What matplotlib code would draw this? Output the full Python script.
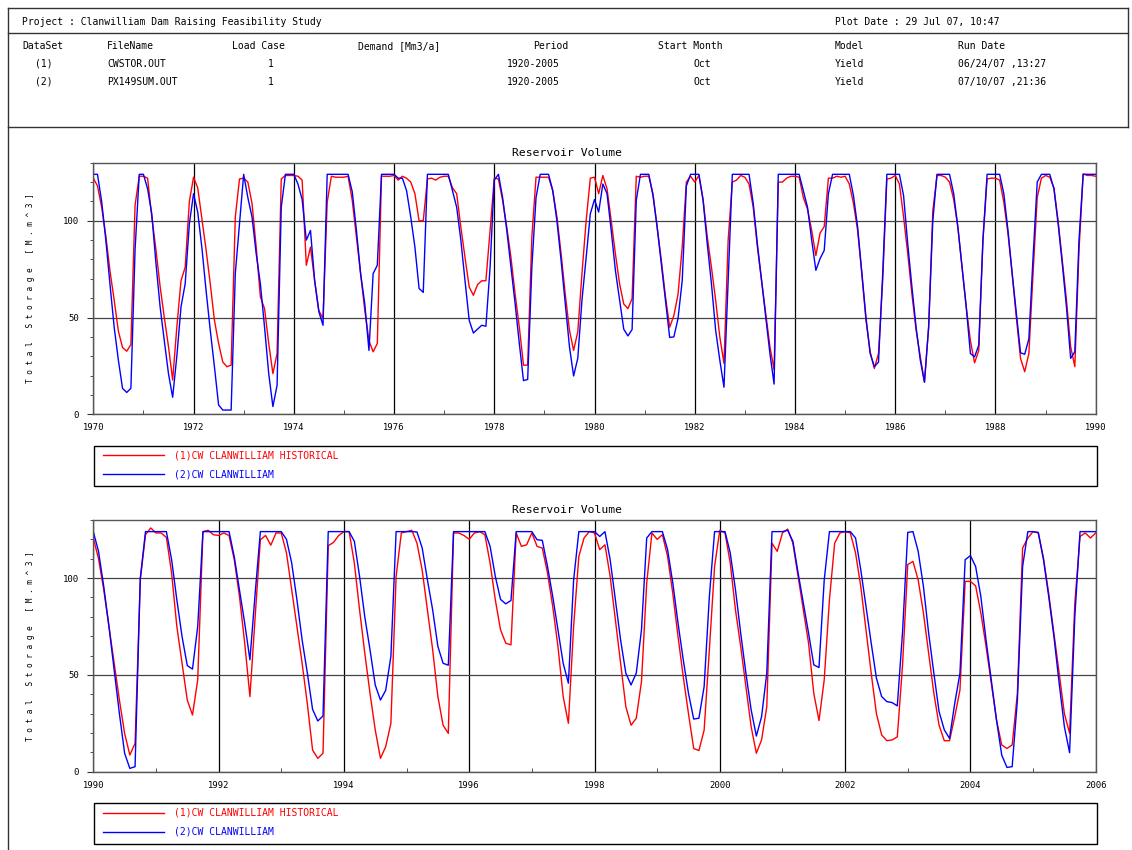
import numpy as np
import matplotlib.pyplot as plt
from matplotlib.lines import Line2D
from matplotlib.patches import Rectangle
from matplotlib.ticker import MultipleLocator

plt.rcParams['font.family'] = ['DejaVu Sans Mono']

# Monthly reservoir storage [M.m^3], one row per year (12 months), last value closes the range
hist_1970 = [
    122, 118, 107, 92, 74, 59, 43, 34.5, 32.6, 36, 108, 123,
    123, 122, 102, 85, 66, 50, 35, 17.7, 45, 69, 76, 110,
    122.5, 117, 101, 85, 67.5, 48.6, 36.6, 27, 24.6, 25.4, 102, 121.6,
    122, 120, 109, 86.4, 60.7, 54.6, 36.6, 21, 31.4, 121.6, 123.4, 123.4,
    123.4, 123, 121, 77, 86.4, 69, 53.6, 49.5, 109.6, 123, 122.5, 122.5,
    122.5, 123, 110.5, 91.6, 72.7, 53.8, 38, 32.3, 36.6, 123, 123, 123,
    123.4, 121, 123, 122, 120, 114, 100, 100, 121.6, 122, 121, 122.5,
    123, 123, 117, 114, 96.7, 81, 65.8, 61.5, 67, 69, 69, 95,
    122, 121.6, 110.5, 96.7, 81, 62, 45, 25.4, 25.4, 91.6, 122.5, 122.5,
    122.5, 122.5, 115.6, 102, 83, 62, 43.5, 33, 42.6, 72.7, 100, 122,
    122.5, 114, 123.4, 116.5, 100, 83, 67.5, 57, 54.6, 59.8, 123, 122.5,
    123, 123, 114, 96.7, 79.5, 60.7, 45, 51, 62, 86.4, 120, 123,
    120, 123.4, 111, 91.6, 76, 59, 40, 26.3, 90, 120, 121, 123.4,
    122.5, 119, 107, 86.4, 69, 52, 35, 23, 120, 120, 122, 123,
    123, 122.5, 112, 106, 95, 82, 93.6, 97, 122, 122, 123, 122.5,
    123, 119, 109, 95, 72.7, 48.6, 32.3, 23.7, 31.4, 69, 121.6, 122,
    123.4, 119, 102, 83, 62, 43.5, 29.7, 16.8, 45, 105, 123.4, 123.4,
    122.5, 120, 111, 96.7, 76, 55.5, 38, 26.6, 33, 90, 121.6, 122,
    122, 121, 109.6, 93.3, 72.7, 50, 28.9, 22, 31.4, 72.7, 112, 122,
    123.4, 122.5, 117, 100, 79.5, 59, 35, 24.6, 84.7, 124.2, 123.4, 123.4,
    123,
]
model_1970 = [
    124, 124, 110, 90, 67, 45, 28, 13.4, 11.3, 13.4, 85, 124,
    124, 116.5, 103.6, 78, 55.5, 38, 21, 8.8, 30, 55.5, 67.5, 98.5,
    114, 104.5, 86, 64, 43.5, 24.6, 4.8, 2.2, 2.2, 2.2, 72.7, 98.5,
    124, 112, 102, 83, 67.5, 45, 21, 4, 15, 107, 124, 124,
    124, 119, 111, 90, 95, 69, 53, 46, 124, 124, 124, 124,
    124, 124, 115, 95, 72.7, 57, 33, 72.7, 77, 124, 124, 124,
    124, 122, 122, 115.6, 102, 86.4, 65, 63, 124, 124, 124, 124,
    124, 124, 115.6, 107, 90, 69, 48.6, 42, 44, 46, 45.5, 76,
    121, 124, 112, 95, 76, 57, 36.6, 17.4, 18, 76, 112, 124,
    124, 124, 115.6, 100, 79.5, 57, 35, 19.8, 29, 59, 81, 103.6,
    111, 104.5, 119, 114, 95, 74.4, 59, 44, 40.5, 43.8, 110.5, 124,
    124, 124, 113, 96.7, 77.8, 59, 39.7, 40, 49.5, 69, 118, 124,
    124, 124, 110.5, 88, 67.5, 43.5, 28, 14, 69, 124, 124, 124,
    124, 124, 109, 88, 69, 50, 31.4, 15.6, 124, 124, 124, 124,
    124, 124, 115.6, 107, 90, 74.4, 80.4, 84.7, 114, 124, 124, 124,
    124, 124, 113, 96.7, 73.5, 50, 31.4, 24.6, 27, 72.7, 124, 124,
    124, 124, 113, 88, 65.8, 45, 28, 16.5, 45, 100, 124, 124,
    124, 124, 114, 96.7, 76, 55.5, 31.4, 29.7, 35.7, 90, 124, 124,
    124, 124, 114, 95, 72.7, 52, 31.8, 31, 39, 81, 120, 124,
    124, 124, 116.5, 98.5, 77.8, 55.5, 28.9, 32.3, 90, 124, 124, 124,
    124,
]
hist_1990 = [
    120.7, 110, 94, 75, 56, 37, 19.8, 8.6, 14.7, 99, 122.4, 125.9,
    123.3, 123.3, 121, 102.6, 75, 56, 37, 29.3, 47.4, 124, 124.7, 122.4,
    122, 123.3, 122, 109.5, 90.5, 66.4, 38.8, 80, 119.8, 122, 117, 123.3,
    123.3, 113, 94, 75, 56, 35, 11.2, 6.9, 9.5, 116.7, 118.4, 122,
    124, 124, 107.8, 83.6, 61.2, 40.5, 21.6, 6.9, 12.9, 25, 100.9, 123.3,
    124, 124.7, 118, 104, 83.6, 63, 38.8, 24, 19.8, 123.3, 123.3, 122,
    120, 123.3, 124, 122.4, 107.8, 88.8, 73.3, 66.4, 65.5, 123.3, 116.4, 117.2,
    123.3, 116.4, 115.5, 102.6, 85.3, 64.7, 38.8, 25, 75, 111.2, 120.7, 124,
    123.3, 114.7, 117.2, 100.9, 78.4, 56, 33.6, 24, 27.6, 46.6, 97.4, 123.3,
    120, 122.4, 111.2, 92, 69.8, 49, 30, 12, 10.9, 21.5, 63, 106,
    124.7, 123.3, 107.8, 83.6, 64.7, 44, 23.3, 9.5, 16.4, 33.6, 118, 113.8,
    123.3, 125.3, 118, 100.9, 83.6, 66.4, 40.5, 26.4, 47.4, 88.8, 118, 123.3,
    124, 123.3, 113, 95.7, 73.3, 50.9, 30, 19, 16, 16.4, 18, 55,
    107, 108.6, 99, 82, 61.2, 40.5, 24, 16, 16, 28.4, 42.2, 98.3,
    98.3, 96, 82, 64.7, 45.7, 26.7, 13.8, 12, 13.8, 40.5, 115.5, 120.7,
    124, 123.3, 110.3, 92, 71.6, 50.9, 30, 19.8, 87, 121.5, 123.3, 120.7,
    123.3,
]
model_1990 = [
    124, 113.8, 95.7, 75, 52.6, 30, 9.5, 1.7, 2.6, 100, 124, 124,
    124, 124, 124, 109.5, 88.8, 69.8, 54.8, 53, 75, 124, 124, 124,
    124, 124, 124, 111, 94, 76.7, 57.8, 92, 124, 124, 124, 124,
    124, 120, 107.8, 88.8, 68, 50.9, 32.2, 26.2, 28.8, 124, 124, 124,
    124, 124, 119, 100.9, 80, 63, 44.8, 37, 42, 59.5, 124, 124,
    124, 124, 123.8, 115.5, 99, 83.6, 64.7, 56, 55, 124, 124, 124,
    124, 124, 124, 124, 116.4, 100.9, 89, 86.7, 88.4, 124, 124, 124,
    124, 119.8, 119.5, 106, 90.5, 73.3, 56, 45.7, 99, 124, 124, 124,
    124, 121.5, 124, 109.5, 88.8, 68, 50.9, 44.8, 50.9, 73.3, 120.7, 124,
    124, 124, 114.7, 97.4, 76.7, 57.8, 40.5, 27.2, 27.6, 44, 90.5, 124,
    124, 124, 113, 94, 71.6, 50.9, 32, 18.4, 28.4, 50.9, 124, 124,
    124, 124.7, 119, 102.6, 87, 71.6, 55.2, 53.8, 99, 124, 124, 124,
    124, 124, 120.7, 104.3, 85.3, 66.4, 48.3, 38.8, 36.2, 35.7, 34, 72,
    123.6, 124, 113.8, 95.7, 71.6, 50.9, 31, 21.6, 17.2, 35.3, 50.9, 109.5,
    111.6, 106, 90.5, 68, 47.4, 26.7, 8.6, 2.2, 2.6, 37, 106, 124,
    124, 123.6, 109.5, 90.5, 69.8, 45.7, 23.3, 9.8, 80, 124, 124, 124,
    124,
]

hist_label = "(1)CW CLANWILLIAM HISTORICAL"
model_label = "(2)CW CLANWILLIAM"
RED = "#ff0000"
BLUE = "#0000ff"

W, H = 1132, 850
fig = plt.figure(figsize=(W / 100, H / 100), dpi=100)


def fx(px):
    return px / W


def fy(py):
    return 1 - py / H


# page frame
def frame_line(x0, y0, x1, y1, color="#333333", lw=1.0):
    fig.add_artist(Line2D([fx(x0), fx(x1)], [fy(y0), fy(y1)], color=color, lw=lw))


frame_line(8, 8, 1128, 8)
frame_line(8, 33, 1128, 33)
frame_line(8, 127, 1128, 127)
frame_line(1128, 8, 1128, 127)
frame_line(8, 8, 8, 850)

# header block
hdr = dict(fontsize=7, va="center", ha="left")
fig.text(fx(22), fy(22), "Project : Clanwilliam Dam Raising Feasibility Study", **hdr)
fig.text(fx(835), fy(22), "Plot Date : 29 Jul 07, 10:47", **hdr)

columns = [22, 107, 232, 358, 533, 658, 835, 958]
heads = ["DataSet", "FileName", "Load Case", "Demand [Mm3/a]", "Period",
         "Start Month", "Model", "Run Date"]
for x, s in zip(columns, heads):
    fig.text(fx(x), fy(46), s, **hdr)

rows = [
    ["(1)", "CWSTOR.OUT", "1", "1920-2005", "Oct", "Yield", "06/24/07 ,13:27"],
    ["(2)", "PX149SUM.OUT", "1", "1920-2005", "Oct", "Yield", "07/10/07 ,21:36"],
]
row_x = [35, 107, 268, 507, 694, 835, 958]
for yy, r in zip([64, 82], rows):
    for x, s in zip(row_x, r):
        fig.text(fx(x), fy(yy), s, **hdr)


def panel(top, bottom, start, end, hist, model, legend_top):
    left, right = 93.3, 1095.7
    ax = fig.add_axes([fx(left), fy(bottom), (right - left) / W, (bottom - top) / H])
    t = start + np.arange(len(hist)) / 12
    ax.plot(t, hist, color=RED, lw=1.0)
    ax.plot(t, model, color=BLUE, lw=1.0)
    ax.set_xlim(start, end)
    ax.set_ylim(0, 130)

    ax.xaxis.set_major_locator(MultipleLocator(2))
    ax.xaxis.set_minor_locator(MultipleLocator(1))
    ax.set_yticks([0, 50, 100])
    ax.yaxis.set_minor_locator(MultipleLocator(10))
    ax.tick_params(axis="x", which="major", length=0, pad=6.5, labelsize=6.4)
    ax.tick_params(axis="x", which="minor", direction="in", length=3, color="#333333")
    ax.tick_params(axis="y", which="major", direction="out", length=4, pad=6.5,
                   labelsize=6.5, color="#333333")
    ax.tick_params(axis="y", which="minor", direction="out", length=2.5, color="#333333")
    ax.grid(True, which="major", axis="x", color="black", lw=0.9)
    ax.grid(True, which="major", axis="y", color="#444444", lw=0.9)
    ax.set_axisbelow(True)
    for sp in ax.spines.values():
        sp.set_color("#555555")
        sp.set_linewidth(1.0)

    fig.text(fx(567), fy(top - 10), "Reservoir Volume", fontsize=8.2,
             ha="center", va="center")
    fig.text(fx(31), fy((top + bottom) / 2),
             "T o t a l   S t o r a g e   [ M . m ^ 3 ]",
             fontsize=5.6, rotation=90, ha="center", va="center")

    # legend box
    box_h = 40.5
    fig.add_artist(Rectangle((fx(93.6), fy(legend_top + box_h)), (1097 - 93.6) / W,
                             box_h / H, fill=False, edgecolor="black", lw=1.0))
    for dy, color, label in [(9.5, RED, hist_label), (28.5, BLUE, model_label)]:
        yy = legend_top + dy
        fig.add_artist(Line2D([fx(103), fx(164)], [fy(yy), fy(yy)], color=color, lw=1.0))
        fig.text(fx(174), fy(yy), label, color=color, fontsize=7, ha="left", va="center")
    return ax


panel(162.7, 414.3, 1970, 1990, hist_1970, model_1970, 445.7)
panel(520.0, 771.7, 1990, 2006, hist_1990, model_1990, 803.0)

fig.savefig("out.png", dpi=100)
